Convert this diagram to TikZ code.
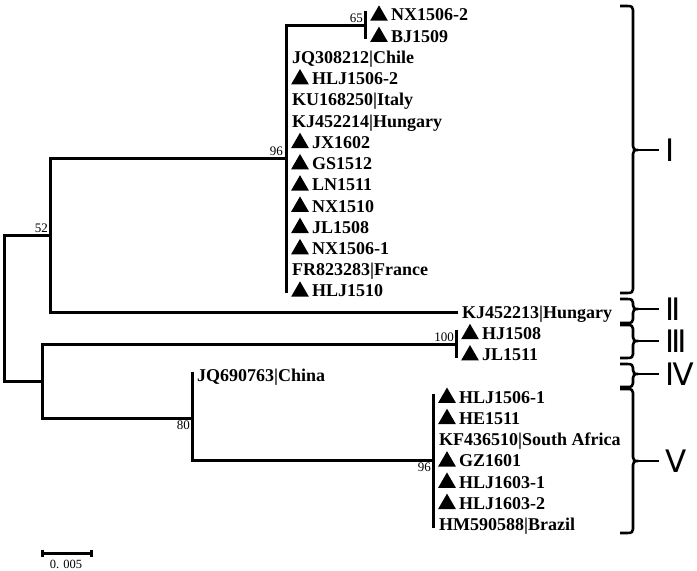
\documentclass[tikz,border=0pt]{standalone}
\usepackage{fontspec}
\setmainfont{Liberation Serif}
\newfontfamily\romf{DejaVu Sans}
\usetikzlibrary{shapes.geometric}
\tikzset{
  branch/.style={line width=3bp, line cap=rect, line join=miter},
  bracepath/.style={line width=2.6bp, line join=round},
  leaflab/.style={font=\bfseries\fontsize{18bp}{20bp}\selectfont, inner sep=0pt, anchor=base west},
  tri/.style={regular polygon, regular polygon sides=3, minimum size=20.5bp, inner sep=0pt, outer sep=0pt, fill=black, draw=none},
  boot/.style={font=\fontsize{13bp}{14bp}\selectfont, inner sep=0pt},
  roman/.style={font=\romf\fontsize{31bp}{33bp}\selectfont, inner sep=0pt, anchor=west}
}
\newcommand\leafT[4]{%
  \node[tri] (#1t) at (#2+14, {15+21.23*#3+0.6}) {};
  \node[leaflab] (#1) at (#2+26, {15+21.23*#3+6}) {#4};}
\newcommand\leafN[4]{%
  \node[leaflab] (#1) at (#2+6, {15+21.23*#3+6}) {#4};}
\newcommand\clbrace[5]{%
  \draw[bracepath] (620,#1) -- (627,#1) .. controls (632,#1) and (633,#1+1) .. (633,#1+4)
    -- (633,#2-4) .. controls (633,#2-1) and (634,#2) .. (638,#2)
    .. controls (634,#2) and (633,#2+1) .. (633,#2+4)
    -- (633,#3-4) .. controls (633,#3-1) and (632,#3) .. (627,#3) -- (620,#3);
  \draw[bracepath] (638,#2) -- (659,#2);
  \node[roman] (#5) at (665,#2) {#4};}
\begin{document}
\begin{tikzpicture}[x=1bp,y=-1bp]
\useasboundingbox (0,0) rectangle (697,571);
% internal nodes
\coordinate (root) at (4,308);
\coordinate (n52) at (50,235.3);
\coordinate (nI) at (286,158.3);
\coordinate (n65) at (365,25.6);
\coordinate (nIII) at (456,344.1);
\coordinate (nA) at (42,381.2);
\coordinate (nB) at (192,418.4);
\coordinate (nV) at (433,460.8);
\coordinate (tKJ) at (456,312.2);
\coordinate (n65top) at (365,13);
\coordinate (n65bot) at (365,38);
\coordinate (nIbot) at (286,291);
\coordinate (nIIItop) at (456,331.5);
\coordinate (nIIIbot) at (456,356.7);
\coordinate (nBtop) at (192,373.5);
\coordinate (nVtop) at (433,395);
\coordinate (nVbot) at (433,526);
% branches
\draw[branch] (root) |- (n52);
\draw[branch] (root) |- (nA);
\draw[branch] (n52) |- (nI);
\draw[branch] (n52) |- (tKJ);
\draw[branch] (nI) |- (n65);
\draw[branch] (nI) -- (nIbot);
\draw[branch] (n65top) -- (n65bot);
\draw[branch] (nA) |- (nIII);
\draw[branch] (nIIItop) -- (nIIIbot);
\draw[branch] (nA) |- (nB);
\draw[branch] (nB) -- (nBtop);
\draw[branch] (nB) |- (nV);
\draw[branch] (nVtop) -- (nVbot);
% bootstrap values
\node[boot, anchor=south east] (b65) at (363,23) {65};
\node[boot, anchor=south east] (b96a) at (283,155.5) {96};
\node[boot, anchor=south east] (b52) at (48,233) {52};
\node[boot, anchor=south east] (b100) at (454,342) {100};
\node[boot, anchor=north east] (b80) at (190,421) {80};
\node[boot, anchor=north east] (b96b) at (431,463) {96};
% leaves
\leafT{l0}{365}{0}{NX1506-2}
\leafT{l1}{365}{1}{BJ1509}
\leafN{l2}{286}{2}{JQ308212|Chile}
\leafT{l3}{286}{3}{HLJ1506-2}
\leafN{l4}{286}{4}{KU168250|Italy}
\leafN{l5}{286}{5}{KJ452214|Hungary}
\leafT{l6}{286}{6}{JX1602}
\leafT{l7}{286}{7}{GS1512}
\leafT{l8}{286}{8}{LN1511}
\leafT{l9}{286}{9}{NX1510}
\leafT{l10}{286}{10}{JL1508}
\leafT{l11}{286}{11}{NX1506-1}
\leafN{l12}{286}{12}{FR823283|France}
\leafT{l13}{286}{13}{HLJ1510}
\leafN{l14}{456}{14}{KJ452213|Hungary}
\leafT{l15}{456}{15}{HJ1508}
\leafT{l16}{456}{16}{JL1511}
\leafN{l17}{191}{17}{JQ690763|China}
\leafT{l18}{433}{18}{HLJ1506-1}
\leafT{l19}{433}{19}{HE1511}
\leafN{l20}{433}{20}{KF436510|South Africa}
\leafT{l21}{433}{21}{GZ1601}
\leafT{l22}{433}{22}{HLJ1603-1}
\leafT{l23}{433}{23}{HLJ1603-2}
\leafN{l24}{433}{24}{HM590588|Brazil}
% braces
\clbrace{6}{150}{293}{Ⅰ}{gI}
\clbrace{299}{309}{323}{Ⅱ}{gII}
\clbrace{325}{341}{358}{Ⅲ}{gIII}
\clbrace{364}{374}{387}{Ⅳ}{gIV}
\clbrace{389}{461}{533}{Ⅴ}{gV}
% scale bar
\coordinate (sbL) at (42,553);
\coordinate (sbR) at (91,553);
\draw[branch, line cap=butt] (sbL) -- (sbR);
\draw[branch, line cap=butt] ([yshift=3.5bp]sbL) -- ([yshift=-3.5bp]sbL);
\draw[branch, line cap=butt] ([yshift=3.5bp]sbR) -- ([yshift=-3.5bp]sbR);
\node[font=\fontsize{12.5bp}{13bp}\selectfont, inner sep=0pt] (sblab) at (66,564) {0. 005};
\end{tikzpicture}
\end{document}
